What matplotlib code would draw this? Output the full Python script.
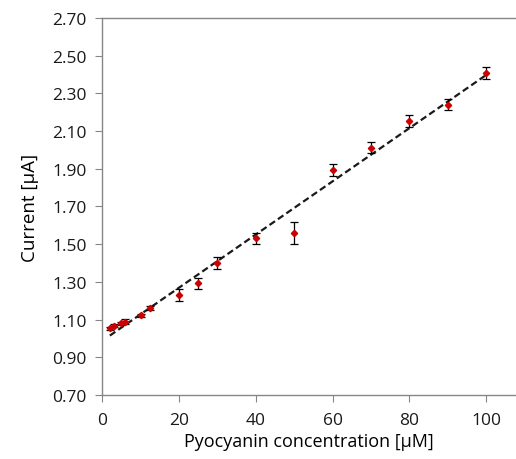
import matplotlib
matplotlib.use("Agg")
import matplotlib.pyplot as plt
import numpy as np

plt.rcParams['font.family'] = ['Open Sans', 'DejaVu Sans']

# pyocyanin concentration (uM) vs current (uA)
conc = [2, 3, 5, 6, 10, 12.5, 20, 25, 30, 40, 50, 60, 70, 80, 90, 100]
current = [1.054, 1.068, 1.080, 1.090, 1.122, 1.163, 1.232, 1.292, 1.400, 1.532,
           1.560, 1.894, 2.012, 2.152, 2.240, 2.410]
err = [0.008, 0.008, 0.010, 0.012, 0.010, 0.010, 0.031, 0.030, 0.032, 0.029,
       0.058, 0.032, 0.028, 0.032, 0.029, 0.032]

xticks = [0, 20, 40, 60, 80, 100]
yticks = [0.70, 0.90, 1.10, 1.30, 1.50, 1.70, 1.90, 2.10, 2.30, 2.50, 2.70]

fig = plt.figure(figsize=(5.16, 4.6), dpi=100)
ax = fig.add_axes([0.198, 0.139, 0.802, 0.82])

# linear trend line
slope, icpt = np.polyfit(conc, current, 1)
xf = np.array([conc[0], conc[-1]])
ax.plot(xf, slope * xf + icpt, color='#1a1a1a', linestyle=(0, (3, 1.6)), linewidth=1.6, zorder=2)

ax.errorbar(conc, current, yerr=err, fmt='D', color='#cc0000', markersize=3.2,
            ecolor='black', elinewidth=0.9, capsize=3, capthick=0.9, zorder=3)

ax.set_xlim(0, 107.8)
ax.set_ylim(0.70, 2.70)
ax.set_xticks(xticks)
ax.set_yticks(yticks)
ax.set_yticklabels(['%.2f' % v for v in yticks])

for s in ['left', 'bottom', 'top']:
    ax.spines[s].set_color('#868686')
    ax.spines[s].set_linewidth(1.0)
ax.spines['right'].set_visible(False)
ax.tick_params(axis='both', colors='#868686', labelcolor='#1a1a1a', labelsize=12.5,
               length=5, direction='out')
ax.tick_params(axis='x', pad=7)
ax.tick_params(axis='y', pad=6)

ax.set_xlabel('Pyocyanin concentration [µM]', fontsize=13, labelpad=3)
ax.set_ylabel('Current [µA]', fontsize=13.5, labelpad=10)

fig.savefig('out.png', dpi=100)
